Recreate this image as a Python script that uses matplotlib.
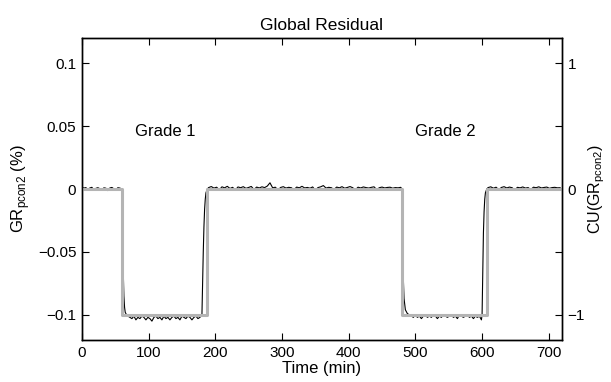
import numpy as np
import matplotlib
matplotlib.use("Agg")
import matplotlib.pyplot as plt

plt.rcParams['font.family'] = ['Liberation Sans', 'DejaVu Sans']

# global residual (%)
t_start = np.arange(0, 60, 3)
gr_start = [0.0015, 0.0008, 0.0012, -0.0005, 0.0009, 0.0014, -0.0008, 0.0006, 0.0011, 0.0003,
            -0.0006, 0.0010, 0.0007, -0.0012, 0.0009, 0.0013, 0.0002, -0.0004, 0.0011, 0.0008]

t_drop1 = [60, 61, 62, 63, 64, 65, 67, 69]
gr_drop1 = [0.0, -0.03, -0.065, -0.085, -0.094, -0.098, -0.100, -0.101]

t_low1 = np.arange(72, 180, 3)
gr_low1 = [-0.102, -0.103, -0.101, -0.104, -0.102, -0.103, -0.101, -0.102, -0.104, -0.102,
           -0.103, -0.105, -0.102, -0.101, -0.103, -0.102, -0.104, -0.101, -0.103, -0.102,
           -0.104, -0.102, -0.101, -0.103, -0.102, -0.104, -0.101, -0.102, -0.103, -0.101,
           -0.102, -0.104, -0.102, -0.101, -0.103, -0.102]

t_rise1 = [180, 181, 182, 183, 184, 185, 186, 188]
gr_rise1 = [-0.100, -0.075, -0.050, -0.030, -0.016, -0.008, -0.003, 0.000]

t_mid = np.arange(190, 480, 4)
gr_mid = [0.0012, 0.0020, 0.0008, 0.0015, -0.0006, 0.0018, 0.0010, 0.0022, 0.0005, 0.0014,
          -0.0008, 0.0017, 0.0011, 0.0019, 0.0006, 0.0013, 0.0021, -0.0004, 0.0016, 0.0009,
          0.0018, 0.0012, 0.0024, 0.0050, 0.0010, 0.0015, -0.0007, 0.0013, 0.0019, 0.0008,
          0.0014, 0.0011, -0.0005, 0.0016, 0.0010, 0.0022, 0.0009, 0.0013, 0.0007, 0.0017,
          -0.0009, 0.0012, 0.0018, 0.0028, 0.0008, 0.0014, 0.0011, -0.0003, 0.0016, 0.0010,
          0.0019, 0.0007, 0.0013, 0.0020, 0.0011, -0.0006, 0.0015, 0.0009, 0.0017, 0.0012,
          0.0008, 0.0014, 0.0018, -0.0004, 0.0011, 0.0016, 0.0009, 0.0013, 0.0015, 0.0007,
          0.0012, 0.0010, 0.0014]

t_drop2 = [480, 481, 482, 483, 485, 488, 491]
gr_drop2 = [0.0, -0.045, -0.072, -0.087, -0.096, -0.099, -0.100]

t_low2 = np.arange(494, 600, 3)
gr_low2 = [-0.101, -0.102, -0.100, -0.102, -0.101, -0.103, -0.101, -0.100, -0.102, -0.101,
           -0.102, -0.100, -0.101, -0.103, -0.101, -0.102, -0.100, -0.101, -0.102, -0.101,
           -0.100, -0.102, -0.101, -0.103, -0.100, -0.101, -0.102, -0.101, -0.100, -0.102,
           -0.101, -0.103, -0.101, -0.102, -0.101, -0.104]

t_rise2 = [600, 601, 602, 603, 604, 605, 607]
gr_rise2 = [-0.100, -0.065, -0.035, -0.018, -0.008, -0.003, 0.000]

t_end = np.arange(609, 721, 4)
gr_end = [0.0012, 0.0018, 0.0007, 0.0015, -0.0005, 0.0013, 0.0019, 0.0009, 0.0016, 0.0011,
          -0.0007, 0.0014, 0.0010, 0.0017, 0.0008, 0.0012, -0.0004, 0.0015, 0.0011, 0.0018,
          0.0009, 0.0013, 0.0016, 0.0006, 0.0012, 0.0014, 0.0010, 0.0011]

t_gr = np.concatenate([t_start, t_drop1, t_low1, t_rise1, t_mid, t_drop2, t_low2, t_rise2, t_end])
gr = np.concatenate([gr_start, gr_drop1, gr_low1, gr_rise1, gr_mid, gr_drop2, gr_low2, gr_rise2, gr_end])

# control usage (right axis)
t_cu = [0, 60, 60, 188, 188, 480, 480, 608, 608, 720]
cu = [0, 0, -1, -1, 0, 0, -1, -1, 0, 0]

xticks = [0, 100, 200, 300, 400, 500, 600, 700]
yticks = [-0.1, -0.05, 0, 0.05, 0.1]
yticklabels = ['\u22120.1', '\u22120.05', '0', '0.05', '0.1']
cuticks = [-1, -0.5, 0, 0.5, 1]
culabels = ['\u22121', '', '0', '', '1']

fig = plt.figure(figsize=(6.11, 3.82), dpi=100)
ax = fig.add_axes([0.134, 0.110, 0.786, 0.790])
ax.plot(t_gr, gr, color='black', lw=0.8)
ax.set_xlim(0, 720)
ax.set_ylim(-0.12, 0.12)
ax.set_xticks(xticks)
ax.set_yticks(yticks)
ax.set_yticklabels(yticklabels)
ax.tick_params(direction='in', length=5, labelsize=11, top=True, width=0.8, pad=4)
ax.set_xlabel('Time (min)', fontsize=12, labelpad=1)
ax.set_ylabel('GR$_{\\mathregular{pcon2}}$ (%)', fontsize=12, labelpad=4)
ax.set_title('Global Residual', fontsize=12.5, pad=6)

ax.text(80, 0.0455, 'Grade 1', fontsize=12, va='center')
ax.text(500, 0.0455, 'Grade 2', fontsize=12, va='center')

ax2 = ax.twinx()
ax2.plot(t_cu, cu, color='#b4b4b4', lw=2.2)
ax2.set_ylim(-1.2, 1.2)
ax2.set_yticks(cuticks)
ax2.set_yticklabels(culabels)
ax2.tick_params(direction='in', length=5, labelsize=11, width=0.8, pad=4)
ax2.set_ylabel('CU(GR$_{\\mathregular{pcon2}}$)', fontsize=11.5, labelpad=1)

for a in (ax, ax2):
    for s in a.spines.values():
        s.set_linewidth(1.0)

fig.savefig('out.png', dpi=100)
